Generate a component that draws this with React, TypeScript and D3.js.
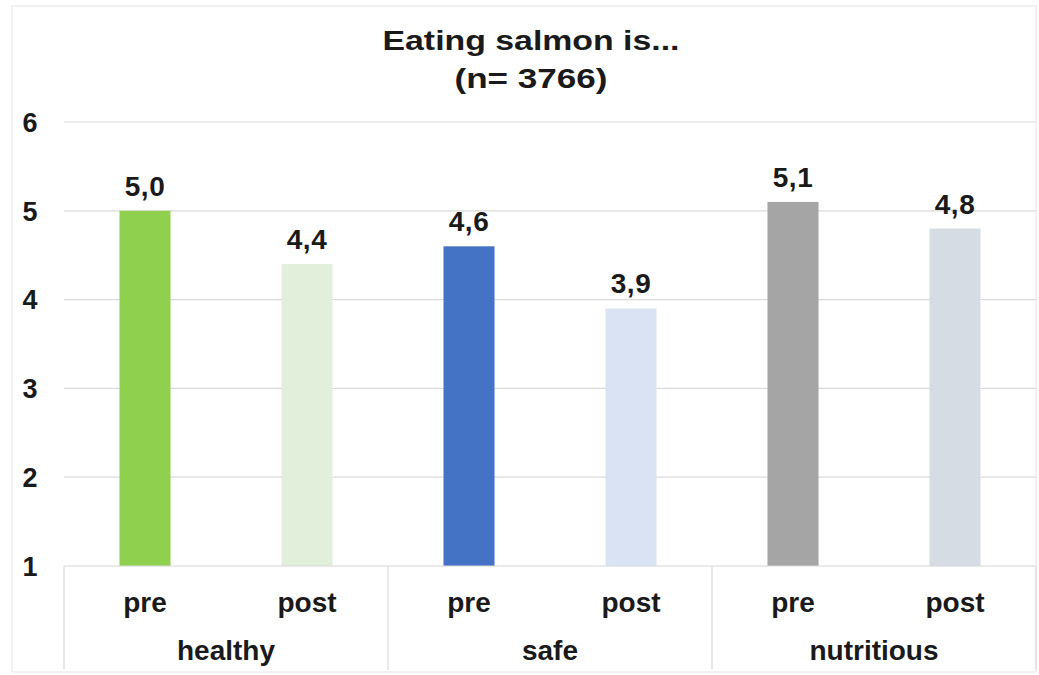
import React from "react";
import * as d3 from "d3";

const categories = ["healthy", "safe", "nutritious"];
const phases = ["pre", "post"];
const preValues = [5.0, 4.6, 5.1];
const postValues = [4.4, 3.9, 4.8];
const yTicks = [1, 2, 3, 4, 5, 6];
const barColors = [
  ["#8FD14F", "#E2EFDA"],
  ["#4472C4", "#DAE3F3"],
  ["#A5A5A5", "#D6DCE4"],
];
const titleLines = ["Eating salmon is...", "(n= 3766)"];
const titleWidths = [297, 153];

const W = 1039;
const H = 675;
const FONT = "'Liberation Sans', Arial, Helvetica, sans-serif";

export default function App() {
  const plotLeft = 64;
  const plotRight = 1036;
  const y = d3.scaleLinear().domain([1, 6]).range([566, 122]);
  const xGroup = d3.scaleBand<string>().domain(categories).range([plotLeft, plotRight]).padding(0);
  const xInner = d3
    .scaleBand<string>()
    .domain(phases)
    .range([0, xGroup.bandwidth()])
    .paddingInner(0.685)
    .paddingOuter(0.3425);

  const fmt = (v: number) => d3.format(".1f")(v).replace(".", ",");
  const axisY = y(1);
  const boxBottom = 670;
  const titleX = 531;

  return (
    <svg
      width={W}
      height={H}
      style={{ position: "absolute", left: 0, top: 0, background: "#fff" }}
      fontFamily={FONT}
    >
      <rect x={12} y={6} width={1024} height={666} fill="#fff" stroke="#e4e4e4" strokeWidth={1} />

      {titleLines.map((t, i) => (
        <text
          key={t}
          x={titleX - titleWidths[i] / 2}
          y={50 + i * 38}
          textLength={titleWidths[i]}
          lengthAdjust="spacingAndGlyphs"
          fontSize={28}
          fontWeight="bold"
          fill="#1a1a1a"
        >
          {t}
        </text>
      ))}

      {yTicks.map((t) => (
        <g key={t}>
          {t > 1 && (
            <line x1={plotLeft} x2={plotRight} y1={y(t)} y2={y(t)} stroke="#dadada" strokeWidth={1.2} />
          )}
          <text
            x={30}
            y={y(t)}
            dy="0.36em"
            textAnchor="middle"
            fontSize={27}
            fontWeight="bold"
            fill="#1a1a1a"
          >
            {t}
          </text>
        </g>
      ))}

      {categories.map((c, ci) => {
        const gx = xGroup(c)!;
        const vals = [preValues[ci], postValues[ci]];
        return (
          <g key={c} transform={`translate(${gx},0)`}>
            {phases.map((p, pi) => {
              const bx = xInner(p)!;
              const bw = xInner.bandwidth();
              const v = vals[pi];
              return (
                <g key={p}>
                  <rect
                    x={bx}
                    y={y(v)}
                    width={bw}
                    height={axisY - y(v)}
                    fill={barColors[ci][pi]}
                  />
                  <text
                    x={bx + bw / 2}
                    y={y(v) - 15}
                    textAnchor="middle"
                    fontSize={28}
                    fontWeight="bold"
                    letterSpacing={0.5}
                    fill="#1a1a1a"
                  >
                    {fmt(v)}
                  </text>
                  <text
                    x={bx + bw / 2}
                    y={612}
                    textAnchor="middle"
                    fontSize={28}
                    fontWeight="bold"
                    fill="#1a1a1a"
                  >
                    {p}
                  </text>
                </g>
              );
            })}
            <text
              x={xGroup.bandwidth() / 2}
              y={660}
              textAnchor="middle"
              fontSize={28}
              fontWeight="bold"
              fill="#1a1a1a"
            >
              {c}
            </text>
          </g>
        );
      })}

      {/* category axis box */}
      <line x1={plotLeft} x2={plotRight} y1={axisY} y2={axisY} stroke="#d6d6d6" strokeWidth={1.2} />
      {[...categories.map((c) => xGroup(c)!), plotRight].map((xv, i) => (
        <line key={i} x1={xv} x2={xv} y1={axisY} y2={boxBottom} stroke="#dcdcdc" strokeWidth={1.2} />
      ))}
    </svg>
  );
}
